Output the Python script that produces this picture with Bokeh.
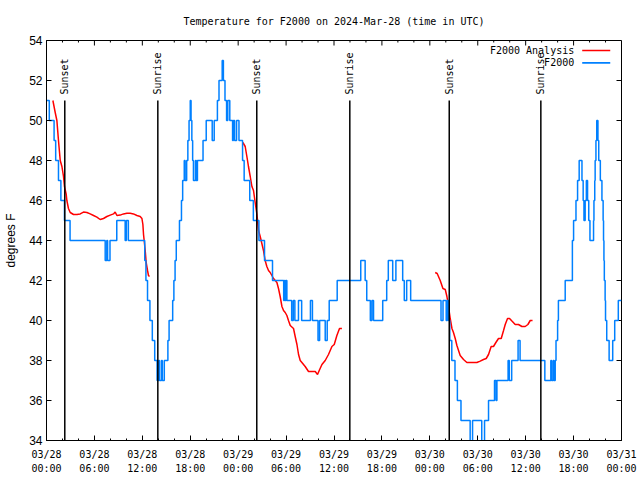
import numpy as np
from bokeh.plotting import figure
from bokeh.models import Range1d, FixedTicker, Label, BoxAnnotation, ColumnDataSource
from bokeh.embed import file_html
from bokeh.resources import INLINE
from bokeh.core.properties import value

# ---------------- data (hours since 2024-03-28 00:00 UTC) ----------------
title_text = "Temperature for F2000 on 2024-Mar-28 (time in UTC)"
tick_hours = [0, 6, 12, 18, 24, 30, 36, 42, 48, 54, 60, 66, 72]
tick_dates = ["03/28", "03/28", "03/28", "03/28", "03/29", "03/29", "03/29",
              "03/29", "03/30", "03/30", "03/30", "03/30", "03/31"]
tick_clock = ["00:00", "06:00", "12:00", "18:00", "00:00", "06:00", "12:00",
              "18:00", "00:00", "06:00", "12:00", "18:00", "00:00"]
minor_hours = list(range(0, 73, 2))
y_ticks = [34, 36, 38, 40, 42, 44, 46, 48, 50, 52, 54]

event_hours = [2.29, 13.94, 26.33, 37.98, 50.43, 61.90]
event_labels = ["Sunset", "Sunrise", "Sunset", "Sunrise", "Sunset", "Sunrise"]

# observed F2000 temperature (deg F), value holds from each time to the next
obs_t = [0.00, 0.35, 0.95, 1.15, 1.50, 1.80, 2.25, 2.95, 7.35, 7.55, 7.65, 7.95,
         8.80, 9.85, 10.00, 10.25, 12.30, 12.45, 12.65, 12.95, 13.25, 13.55, 13.85,
         14.05, 14.15, 14.40, 14.50, 14.75, 15.20, 15.35, 15.80, 15.95, 16.10, 16.25,
         16.65, 16.90, 17.05, 17.25, 17.35, 17.55, 17.70, 17.85, 18.00, 18.10, 18.20,
         18.30, 18.40, 18.65, 18.75, 18.90, 19.60, 20.00, 20.75, 21.00, 21.40, 21.60,
         22.00, 22.15, 22.35, 22.55, 22.70, 22.95, 23.30, 23.40, 23.55, 23.80, 24.10,
         24.55, 24.75, 25.45, 25.90, 26.60, 27.30, 28.30, 29.70, 29.80, 29.90, 30.00,
         30.10, 30.70, 30.90, 31.10, 31.55, 31.95, 33.05, 33.30, 34.00, 34.20, 34.90,
         35.15, 35.40, 36.40, 39.35, 39.90, 40.10, 40.55, 40.75, 40.95, 42.10, 42.60,
         42.80, 43.35, 43.75, 44.60, 44.80, 45.10, 45.60, 49.40, 49.65, 50.05, 50.20,
         50.35, 50.50, 50.75, 51.15, 51.45, 51.90, 53.05, 53.35, 54.50, 54.85, 55.35,
         56.10, 56.30, 56.40, 57.80, 57.95, 58.25, 59.05, 59.30, 62.40, 63.15, 63.25,
         63.45, 63.55, 63.70, 63.80, 64.00, 64.10, 64.95, 65.85, 66.00, 66.30, 66.50,
         66.70, 67.05, 67.20, 67.30, 67.45, 67.60, 67.75, 67.90, 68.05, 68.50, 68.55,
         68.65, 68.70, 68.80, 68.90, 69.05, 69.15, 69.35, 69.55, 69.70, 69.75, 69.80,
         69.85, 69.95, 70.00, 70.15, 70.45, 70.90, 71.15, 71.60, 72.00]
obs_v = [51, 50, 49, 48, 47, 46, 45, 44, 43, 44, 43, 44,
         45, 44, 45, 44, 43, 42, 41, 40, 39, 38, 37,
         38, 37, 38, 37, 38, 39, 40, 41, 42, 43, 44,
         45, 46, 47, 48, 47, 48, 49, 50, 51, 50, 49,
         48, 47, 48, 47, 48, 49, 50, 49, 50, 51, 52,
         53, 52, 51, 50, 51, 50, 49, 50, 49, 50, 49,
         48, 47, 46, 45, 44, 43, 42, 41, 42, 41, 42,
         41, 40, 41, 40, 41, 40, 41, 40, 39, 40, 39,
         40, 41, 42, 43, 42, 41, 40, 41, 40, 41, 42,
         43, 42, 43, 42, 41, 42, 41, 40, 41, 40, 41,
         40, 39, 38, 37, 36, 35, 33, 35, 33, 35, 36,
         37, 36, 37, 38, 37, 38, 39, 38, 37, 38, 37,
         38, 37, 38, 39, 40, 41, 42, 44, 45, 46, 47,
         48, 47, 46, 45, 46, 47, 46, 45, 44, 45, 46,
         47, 48, 49, 50, 49, 48, 47, 46, 45, 44, 43,
         42, 41, 40, 39, 38, 39, 40, 41, 41]

# F2000 analysis (deg F), three separate runs
ana1_t = [0.80, 1.09, 1.30, 1.50, 1.72, 1.93, 2.13, 2.25, 2.47, 2.55, 2.75, 2.97,
          3.38, 3.81, 4.22, 4.63, 5.06, 5.47, 5.89, 6.31, 6.72, 7.14, 7.56, 7.98,
          8.39, 8.60, 8.82, 9.23, 9.64, 10.07, 10.48, 10.89, 11.32, 11.73, 11.95,
          12.07, 12.15, 12.23, 12.36, 12.48, 12.65, 12.77, 12.90]
ana1_v = [51.0, 50.4, 50.0, 49.0, 48.0, 47.7, 47.2, 46.7, 46.3, 46.0, 45.6, 45.4,
          45.3, 45.3, 45.33, 45.42, 45.4, 45.33, 45.25, 45.17, 45.05, 45.1, 45.2, 45.27,
          45.33, 45.42, 45.25, 45.27, 45.33, 45.36, 45.36, 45.33, 45.25, 45.2, 45.1,
          44.8, 44.3, 44.0, 43.5, 42.9, 42.5, 42.25, 42.2]
ana2_t = [24.59, 24.88, 25.09, 25.29, 25.51, 25.72, 25.92, 26.13, 26.35, 26.55, 26.76,
          27.17, 27.38, 27.59, 27.80, 28.01, 28.22, 28.43, 28.85, 29.05, 29.26, 29.48,
          29.68, 29.89, 30.10, 30.30, 30.52, 30.93, 31.14, 31.36, 31.56, 31.77, 31.98,
          32.39, 32.81, 33.23, 33.65, 33.94, 34.15, 34.49, 34.90, 35.31, 35.74, 36.03,
          36.36, 36.69, 36.99]
ana2_v = [48.9, 48.7, 48.2, 47.7, 47.2, 46.7, 46.5, 45.9, 45.3, 44.5, 44.2,
          43.5, 43.0, 42.7, 42.5, 42.4, 42.25, 42.1, 41.9, 41.6, 41.2, 40.7,
          40.5, 40.4, 40.25, 40.0, 39.75, 39.6, 39.2, 38.8, 38.3, 38.0, 37.9,
          37.7, 37.45, 37.45, 37.45, 37.3, 37.5, 37.8, 38.0, 38.3, 38.7, 38.8,
          39.25, 39.6, 39.6]
ana3_t = [48.67, 48.92, 49.30, 49.64, 49.93, 50.14, 50.34, 50.55, 50.77, 50.96, 51.18,
          51.39, 51.80, 52.22, 52.64, 53.05, 53.89, 54.31, 54.72, 55.06, 55.35, 55.68,
          55.97, 56.27, 56.60, 56.94, 57.23, 57.44, 57.73, 57.98, 58.28, 58.69, 59.10,
          59.53, 59.94, 60.28, 60.57, 60.86]
ana3_v = [42.4, 42.35, 42.0, 41.6, 41.55, 41.2, 40.7, 40.1, 39.6, 39.4, 39.1,
          38.75, 38.25, 38.05, 37.9, 37.9, 37.9, 37.97, 38.05, 38.1, 38.3, 38.7,
          38.7, 38.9, 39.1, 39.1, 39.5, 39.8, 40.1, 40.1, 39.97, 39.8, 39.8,
          39.7, 39.7, 39.8, 40.0, 40.0]

series_names = ["F2000 Analysis", "F2000"]
series_colors = ["#ff0000", "#0080ff"]

# ---------------- style / layout ----------------
X0, X1 = 0, 72
Y0, Y1 = 34, 54
FRAME_W, FRAME_H = 575, 400
MARK_TOP = 51.0
LABEL_Y = 51.3
MONO = "DejaVu Sans Mono"
SANS = "Liberation Sans"
MAJ_PX, MIN_PX = 5, 2
px_x = (X1 - X0) / FRAME_W
px_y = (Y1 - Y0) / FRAME_H

p = figure(frame_width=FRAME_W, frame_height=FRAME_H,
           x_range=Range1d(X0, X1), y_range=Range1d(Y0, Y1),
           output_backend="svg", toolbar_location=None,
           min_border_left=46, min_border_right=18, min_border_top=40, min_border_bottom=39,
           title=title_text)
p.xgrid.visible = False
p.ygrid.visible = False
p.outline_line_color = "black"
p.outline_line_width = 1
p.background_fill_color = "white"
p.border_fill_color = "white"

p.title.text_font = MONO
p.title.text_font_size = "10px"
p.title.text_font_style = "normal"
p.title.text_color = "black"
p.title.align = "center"
p.title.standoff = 27

xt = FixedTicker(ticks=tick_hours, minor_ticks=minor_hours)
yt = FixedTicker(ticks=y_ticks, minor_ticks=[])

def style_axis(ax):
    ax.axis_line_color = "black"
    ax.major_tick_line_color = "black"
    ax.minor_tick_line_color = "black"
    ax.major_tick_in = MAJ_PX
    ax.major_tick_out = 0
    ax.minor_tick_in = MIN_PX
    ax.minor_tick_out = 0
    ax.major_label_text_color = "black"

xa = p.xaxis[0]
xa.ticker = xt
style_axis(xa)
xa.major_label_overrides = {h: d + "\n" + c for h, d, c in zip(tick_hours, tick_dates, tick_clock)}
xa.major_label_text_font = MONO
xa.major_label_text_font_size = "10px"
xa.major_label_text_line_height = 1.3
xa.major_label_standoff = 8

ya = p.yaxis[0]
ya.ticker = yt
style_axis(ya)
ya.minor_tick_in = 0
ya.major_label_text_font = SANS
ya.major_label_text_font_size = "12px"
ya.major_label_standoff = 4
ya.axis_label = "degrees F"
ya.axis_label_text_font = SANS
ya.axis_label_text_font_size = "12px"
ya.axis_label_text_font_style = "normal"
ya.axis_label_text_color = "black"
ya.axis_label_standoff = 8

# mirrored tick marks on the top and right frame edges (gnuplot style)
top_major = ColumnDataSource(dict(x=tick_hours, y0=[Y1] * len(tick_hours),
                                  y1=[Y1 - MAJ_PX * px_y] * len(tick_hours)))
top_minor_h = [h for h in minor_hours if h not in tick_hours]
top_minor = ColumnDataSource(dict(x=top_minor_h, y0=[Y1] * len(top_minor_h),
                                  y1=[Y1 - MIN_PX * px_y] * len(top_minor_h)))
right_major = ColumnDataSource(dict(y=y_ticks, x0=[X1] * len(y_ticks),
                                    x1=[X1 - MAJ_PX * px_x] * len(y_ticks)))
p.segment(x0="x", y0="y0", x1="x", y1="y1", source=top_major, line_color="black", line_width=1)
p.segment(x0="x", y0="y0", x1="x", y1="y1", source=top_minor, line_color="black", line_width=1)
p.segment(x0="x0", y0="y", x1="x1", y1="y", source=right_major, line_color="black", line_width=1)

# analysis runs (drawn first)
for t, v in [(ana1_t, ana1_v), (ana2_t, ana2_v), (ana3_t, ana3_v)]:
    p.line(t, v, line_color=series_colors[0], line_width=1.5)

# observations
p.step(obs_t, obs_v, mode="after", line_color=series_colors[1], line_width=1.5)

# sunrise / sunset markers
ev = ColumnDataSource(dict(x=event_hours, y0=[Y0] * len(event_hours),
                           y1=[MARK_TOP] * len(event_hours),
                           ly=[LABEL_Y] * len(event_hours), text=event_labels))
p.segment(x0="x", y0="y0", x1="x", y1="y1", source=ev, line_color="black", line_width=1.5)
p.text(x="x", y="ly", text="text", source=ev, angle=np.pi / 2, text_align="left",
       text_baseline="middle", text_font=value(MONO), text_font_size="10px",
       text_color="black")

# legend (label to the left of sample, gnuplot style)
leg_x_text = 66.08
leg_x0, leg_x1 = 67.08, 70.59
leg_rows = [53.5, 52.88]
for name, col, ry in zip(series_names, series_colors, leg_rows):
    p.add_layout(Label(x=leg_x_text, y=ry, text=name, text_align="right",
                       text_baseline="middle", text_font=MONO, text_font_size="10px",
                       text_color="black"))
    p.add_layout(BoxAnnotation(left=leg_x0, right=leg_x1, bottom=ry - 0.04, top=ry + 0.04,
                               fill_color=col, fill_alpha=1.0, line_alpha=0))

open("out.html", "w").write(file_html(p, INLINE))
